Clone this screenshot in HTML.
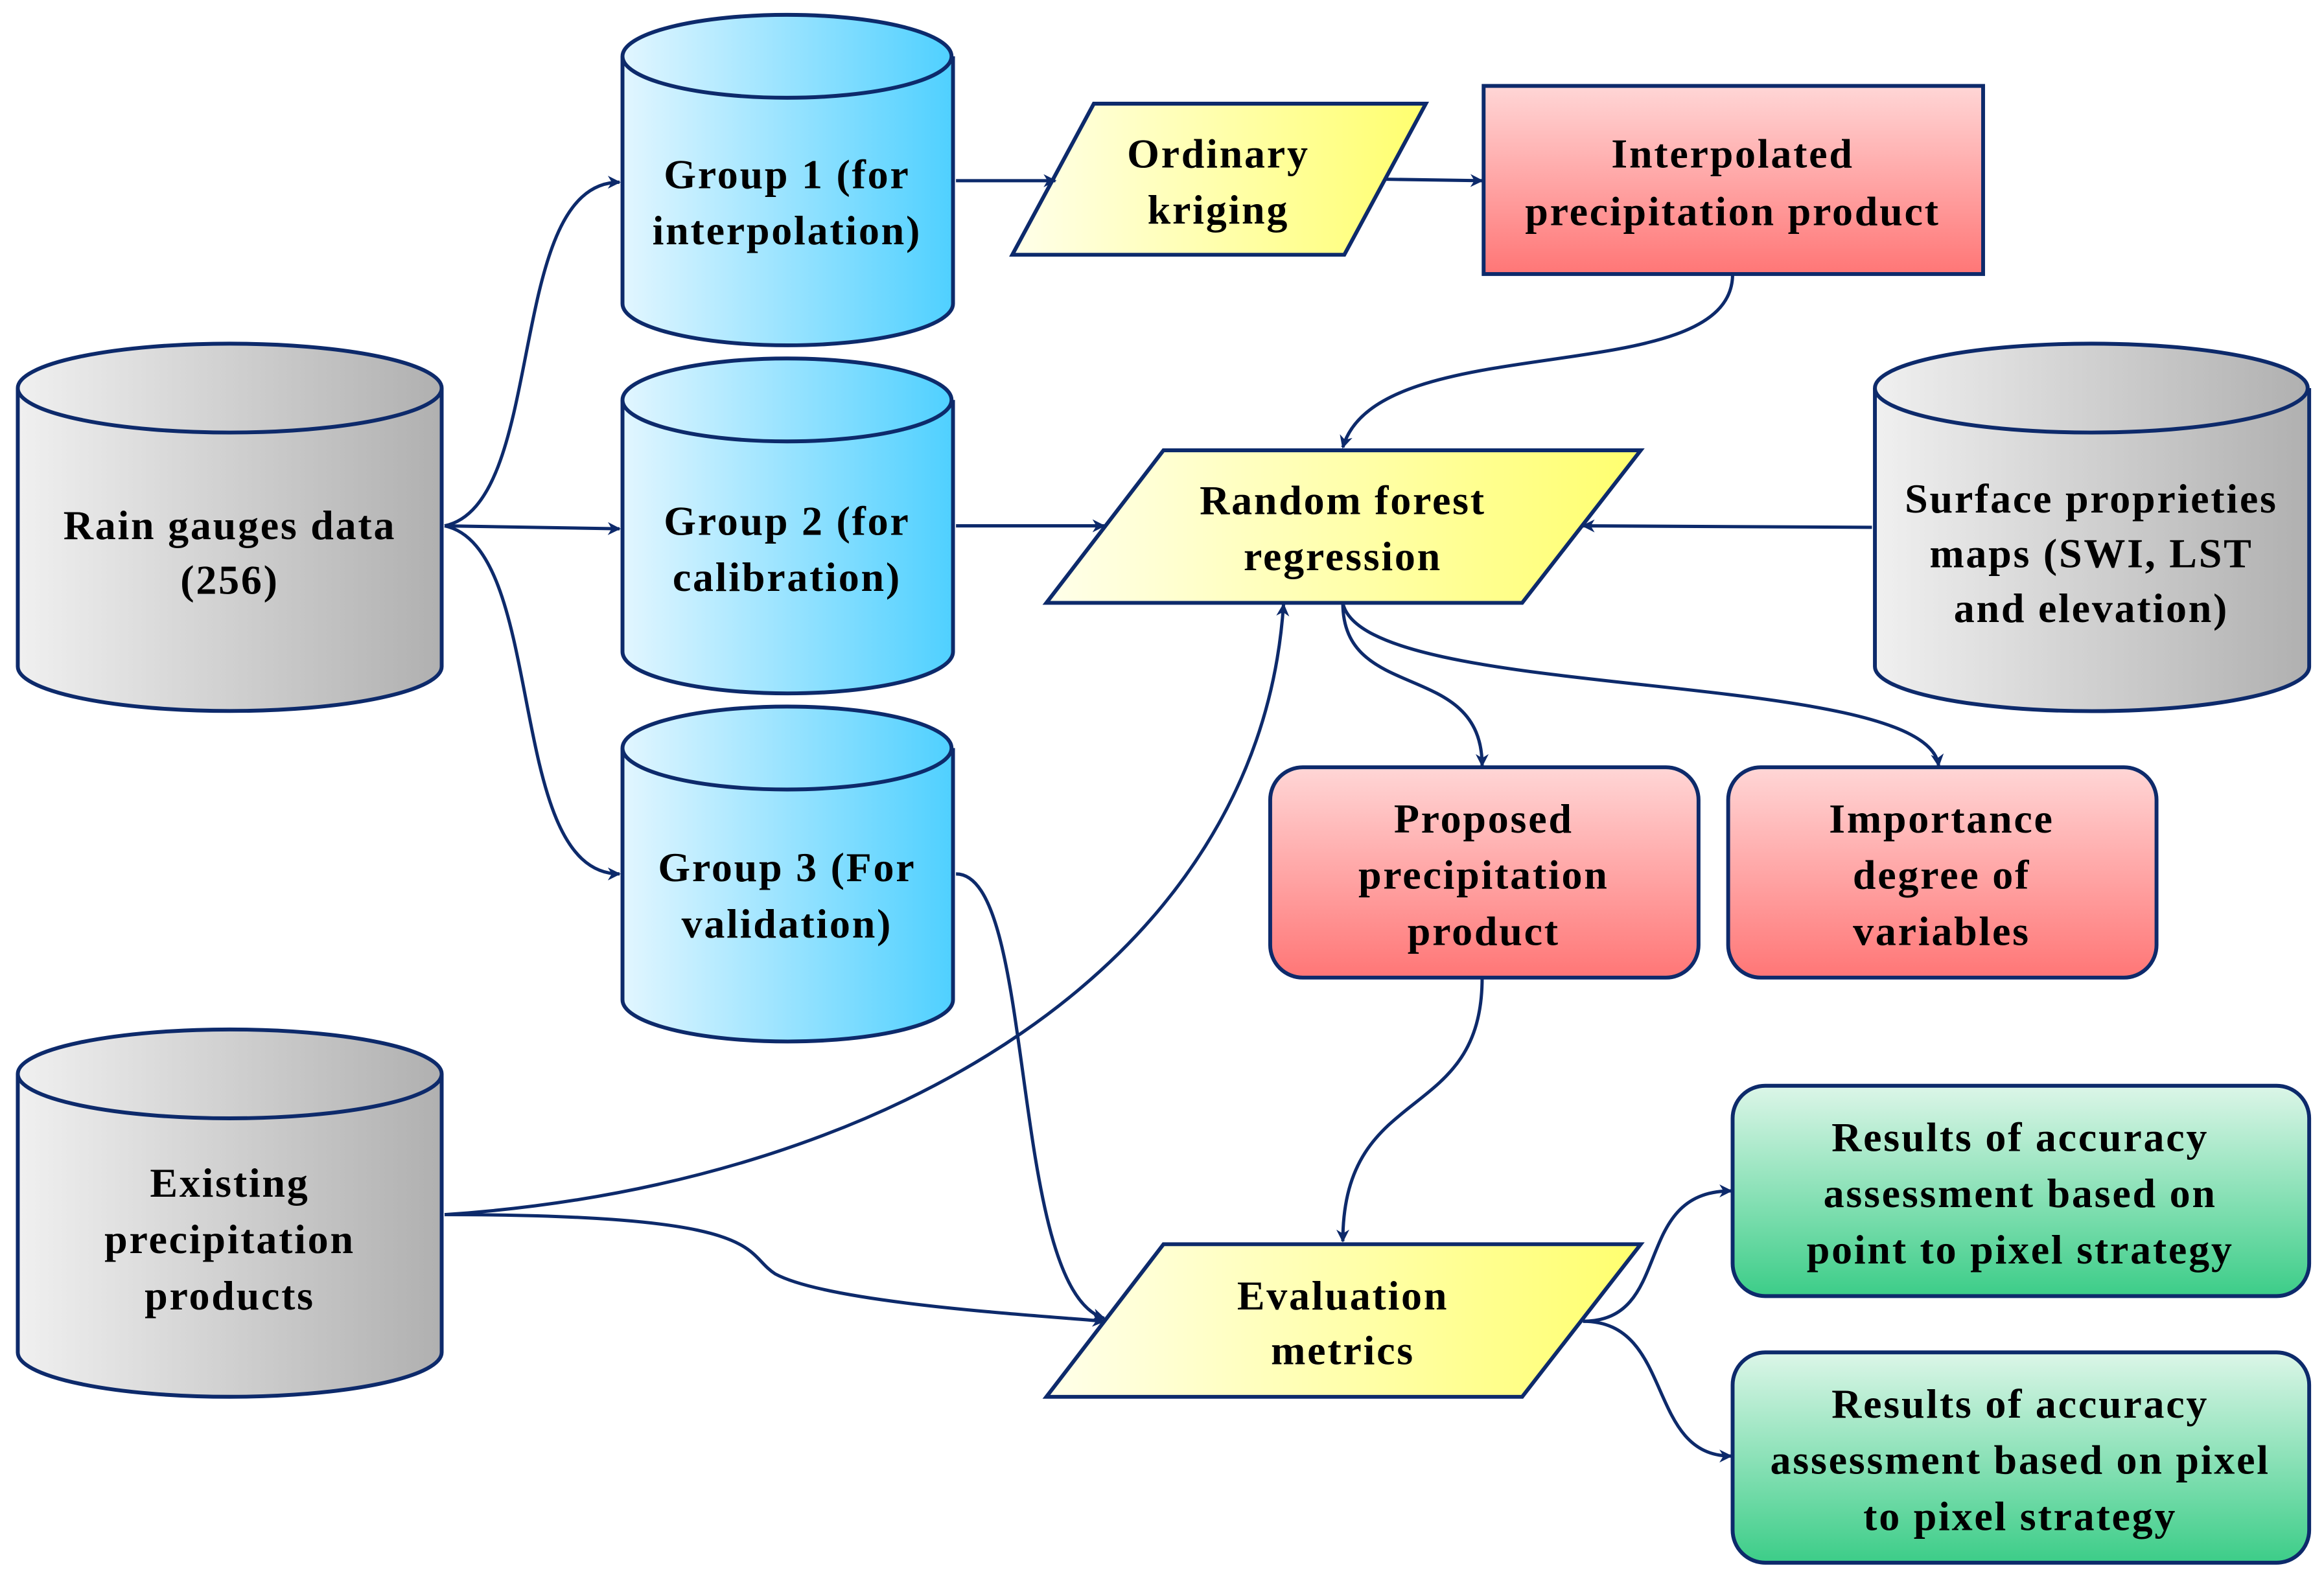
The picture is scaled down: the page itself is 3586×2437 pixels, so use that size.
<!DOCTYPE html>
<html><head><meta charset="utf-8"><style>html,body{margin:0;padding:0;background:#fff}svg{display:block}</style></head><body>
<svg width="3586" height="2437" viewBox="0 0 1568 1066" preserveAspectRatio="none" xmlns="http://www.w3.org/2000/svg">
<defs>
<linearGradient id="blue" x1="0" x2="1" y1="0" y2="0"><stop offset="0" stop-color="#e2f6ff"/><stop offset="1" stop-color="#4fd0ff"/></linearGradient>
<linearGradient id="gray" x1="0" x2="1" y1="0" y2="0"><stop offset="0" stop-color="#f0f0f0"/><stop offset="1" stop-color="#b0b0b0"/></linearGradient>
<linearGradient id="red" x1="0" x2="0" y1="0" y2="1"><stop offset="0" stop-color="#ffd6d6"/><stop offset="1" stop-color="#ff7676"/></linearGradient>
<linearGradient id="yel" x1="0" x2="1" y1="0" y2="0"><stop offset="0" stop-color="#ffffea"/><stop offset="1" stop-color="#ffff6e"/></linearGradient>
<linearGradient id="grn" x1="0" x2="0" y1="0" y2="1"><stop offset="0" stop-color="#dcf6e8"/><stop offset="1" stop-color="#3ccd88"/></linearGradient>
<marker id="ar" viewBox="0 0 10 10" refX="9" refY="5" markerWidth="4" markerHeight="4" orient="auto"><path d="M0,0 L10,5 L0,10 L3,5 z" fill="#0d2a6b"/></marker>
</defs>
<g stroke="#0d2a6b" stroke-width="2.6">
<path d="M12,262 V450 A143,30 0 0 0 298,450 V262" fill="url(#gray)"/><ellipse cx="155" cy="262" rx="143" ry="30" fill="url(#gray)"/>
<path d="M12,725 V913 A143,30 0 0 0 298,913 V725" fill="url(#gray)"/><ellipse cx="155" cy="725" rx="143" ry="30" fill="url(#gray)"/>
<path d="M1265,262 V450 A146,30 0 0 0 1558,450 V262" fill="url(#gray)"/><ellipse cx="1411" cy="262" rx="146" ry="30" fill="url(#gray)"/>
<path d="M420,38 V205 A111,28 0 0 0 643,205 V38" fill="url(#blue)"/><ellipse cx="531" cy="38" rx="111" ry="28" fill="url(#blue)"/>
<path d="M420,270 V440 A111,28 0 0 0 643,440 V270" fill="url(#blue)"/><ellipse cx="531" cy="270" rx="111" ry="28" fill="url(#blue)"/>
<path d="M420,505 V675 A111,28 0 0 0 643,675 V505" fill="url(#blue)"/><ellipse cx="531" cy="505" rx="111" ry="28" fill="url(#blue)"/>
<polygon points="738,70 962,70 907,172 683,172" fill="url(#yel)"/>
<polygon points="785,304 1107,304 1027,407 706,407" fill="url(#yel)"/>
<polygon points="785,840 1107,840 1027,943 706,943" fill="url(#yel)"/>
<rect x="1001" y="58" width="337" height="127" fill="url(#red)"/>
<rect x="857" y="518" width="289" height="142" rx="22" fill="url(#red)"/>
<rect x="1166" y="518" width="289" height="142" rx="22" fill="url(#red)"/>
<rect x="1169" y="733" width="389" height="142" rx="22" fill="url(#grn)"/>
<rect x="1169" y="913" width="389" height="142" rx="22" fill="url(#grn)"/>
</g>
<g stroke="#0d2a6b" stroke-width="2.2" fill="none" marker-end="url(#ar)">
<path d="M300,355 C370,340 340,123 418,123"/>
<path d="M300,355 L418,357"/>
<path d="M300,355 C370,370 340,590 418,590"/>
<path d="M645,122 L712,122"/>
<path d="M935,121 L1000,122"/>
<path d="M1169,185 C1169,265 930,220 906,302"/>
<path d="M645,355 L745,355"/>
<path d="M1263,356 L1068,355"/>
<path d="M906,407 C906,475 1000,445 1000,517"/>
<path d="M906,407 C920,475 1300,450 1308,517"/>
<path d="M300,820 C600,800 850,650 866,408"/>
<path d="M300,820 C520,820 500,845 523,860 C560,880 700,888 745,892"/>
<path d="M645,590 C700,590 680,870 745,890"/>
<path d="M1000,660 C1000,760 906,730 906,838"/>
<path d="M1068,892 C1130,892 1100,804 1168,804"/>
<path d="M1068,892 C1130,892 1110,983 1168,983"/>
</g>
<g font-family="'Liberation Serif',serif" font-weight="bold" font-size="28" letter-spacing="1.2" text-anchor="middle" fill="#000">
<text x="155" y="364">Rain gauges data</text><text x="155" y="401">(256)</text>
<text x="155" y="808">Existing</text><text x="155" y="846">precipitation</text><text x="155" y="884">products</text>
<text x="1411" y="346">Surface proprieties</text><text x="1411" y="383">maps (SWI, LST</text><text x="1411" y="420">and elevation)</text>
<text x="531" y="127">Group 1 (for</text><text x="531" y="165">interpolation)</text>
<text x="531" y="361">Group 2 (for</text><text x="531" y="399">calibration)</text>
<text x="531" y="595">Group 3 (For</text><text x="531" y="633">validation)</text>
<text x="822" y="113">Ordinary</text><text x="822" y="151">kriging</text>
<text x="1169" y="113">Interpolated</text><text x="1169" y="152">precipitation product</text>
<text x="906" y="347">Random forest</text><text x="906" y="385">regression</text>
<text x="1001" y="562">Proposed</text><text x="1001" y="600">precipitation</text><text x="1001" y="638">product</text>
<text x="1310" y="562">Importance</text><text x="1310" y="600">degree of</text><text x="1310" y="638">variables</text>
<text x="906" y="884">Evaluation</text><text x="906" y="921">metrics</text>
<text x="1363" y="777">Results of accuracy</text><text x="1363" y="815">assessment based on</text><text x="1363" y="853">point to pixel strategy</text>
<text x="1363" y="957">Results of accuracy</text><text x="1363" y="995">assessment based on pixel</text><text x="1363" y="1033">to pixel strategy</text>
</g>
</svg>
</body></html>
